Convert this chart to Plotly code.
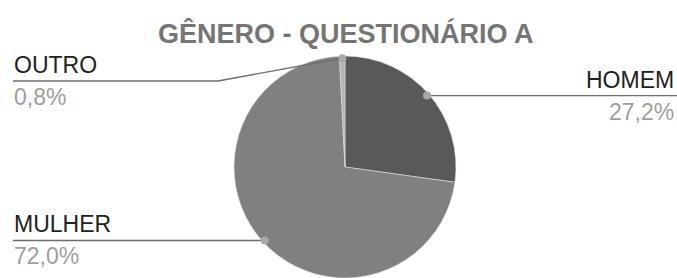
import math
import plotly.graph_objects as go

# ---- data ----
labels = ["HOMEM", "MULHER", "OUTRO"]
values = [27.2, 72.0, 0.8]
value_text = ["27,2%", "72,0%", "0,8%"]
colors = ["#595959", "#808080", "#b3b3b3"]
title = "GÊNERO - QUESTIONÁRIO A"

# ---- layout settings (pixels) ----
W, H = 677, 278
cx, cy, R = 345, 167, 111          # pie centre / radius in px (from top-left)
dot_frac = 0.98
label_side = {"HOMEM": "right", "MULHER": "left", "OUTRO": "left"}
outro_line_y = 81
outro_elbow_x = 218
left_x, right_x = 13, 675
line_right_end = 677
FONT = "Liberation Sans, Arial, sans-serif"

def px(x):
    return x / W

def py(y):
    return 1 - y / H

fig = go.Figure(go.Pie(
    labels=labels, values=values, sort=False, direction="clockwise", rotation=0,
    marker=dict(colors=colors, line=dict(color="#e0e0e0", width=0.6)),
    textinfo="none", hoverinfo="label+percent", showlegend=False,
    domain=dict(x=[px(cx - R), px(cx + R)], y=[py(cy + R), py(cy - R)]),
))

shapes = []
annotations = []
total = sum(values)
cum = 0.0
LINE = dict(color="#6e6e6e", width=1.4)
for lab, v, vt in zip(labels, values, value_text):
    mid = (cum + v / 2) / total * 2 * math.pi
    cum += v
    dx = math.sin(mid) * R * dot_frac
    dy = -math.cos(mid) * R * dot_frac
    dotx, doty = cx + dx, cy + dy
    side = label_side[lab]
    if lab == "OUTRO":
        ly = outro_line_y
        shapes.append(dict(type="line", xref="paper", yref="paper",
                           x0=px(dotx), y0=py(doty), x1=px(outro_elbow_x), y1=py(ly), line=LINE))
        shapes.append(dict(type="line", xref="paper", yref="paper",
                           x0=px(outro_elbow_x), y0=py(ly), x1=px(left_x), y1=py(ly), line=LINE))
    else:
        ly = doty
        end = left_x if side == "left" else line_right_end
        shapes.append(dict(type="line", xref="paper", yref="paper",
                           x0=px(dotx), y0=py(ly), x1=px(end), y1=py(ly), line=LINE))
    shapes.append(dict(type="circle", xref="paper", yref="paper",
                       x0=px(dotx - 4), x1=px(dotx + 4), y0=py(doty + 4), y1=py(doty - 4),
                       fillcolor="#a8a8a8", line=dict(width=0)))
    ax = left_x if side == "left" else right_x
    xa = "left" if side == "left" else "right"
    annotations.append(dict(text=lab, x=px(ax), y=py(ly - 2), xref="paper", yref="paper",
                            xanchor=xa, yanchor="bottom", showarrow=False, borderpad=0,
                            font=dict(family=FONT, size=23, color="#222222")))
    annotations.append(dict(text=vt, x=px(ax), y=py(ly + 2), xref="paper", yref="paper",
                            xanchor=xa, yanchor="top", showarrow=False, borderpad=0,
                            font=dict(family=FONT, size=23, color="#9e9e9e")))

annotations.append(dict(text="<b>" + title + "</b>", x=px(346), y=py(33), xref="paper", yref="paper",
                        xanchor="center", yanchor="middle", showarrow=False,
                        font=dict(family=FONT, size=27, color="#757575")))

fig.update_layout(width=W, height=H, margin=dict(l=0, r=0, t=0, b=0),
                  paper_bgcolor="white", plot_bgcolor="white",
                  shapes=shapes, annotations=annotations)
fig.write_html("out.html", config={"displayModeBar": False},
               post_script="document.body.style.margin='0';document.body.style.overflow='hidden';")
